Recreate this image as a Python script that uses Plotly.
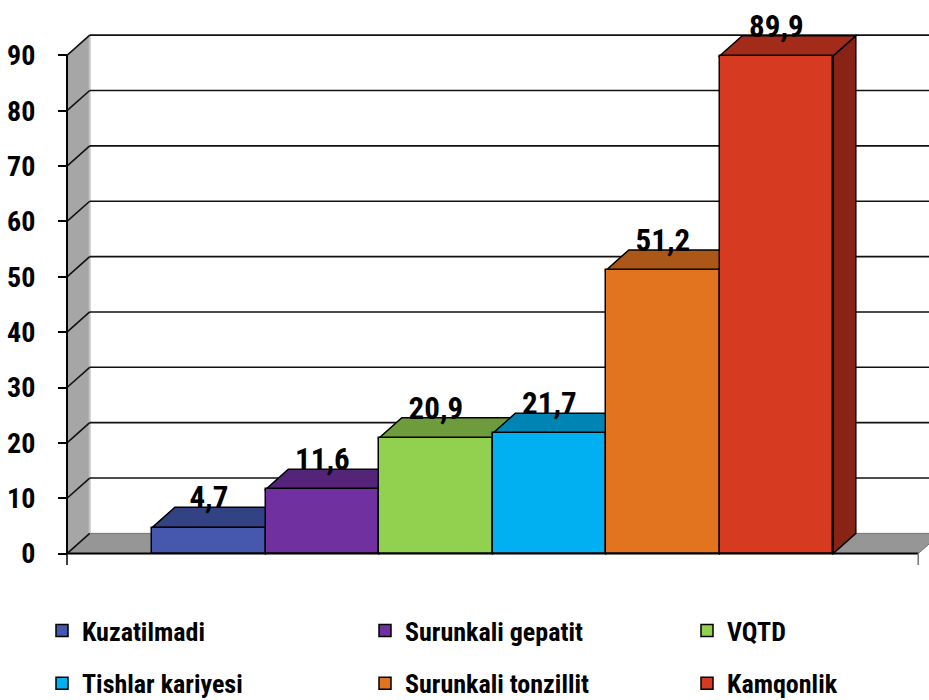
import plotly.graph_objects as go

# ---- data ----
categories = ["Kuzatilmadi", "Surunkali gepatit", "VQTD",
              "Tishlar kariyesi", "Surunkali tonzillit", "Kamqonlik"]
values = [4.7, 11.6, 20.9, 21.7, 51.2, 89.9]
value_labels = ["4,7", "11,6", "20,9", "21,7", "51,2", "89,9"]
tick_values = [0, 10, 20, 30, 40, 50, 60, 70, 80, 90]
tick_labels = ["0", "10", "20", "30", "40", "50", "60", "70", "80", "90"]

# ---- style ----
front_colors = ["#4558AE", "#7030A0", "#92D050", "#00B0F0", "#E2731F", "#D63A21"]
top_colors = ["#334283", "#542478", "#6E9C3C", "#0084B4", "#AA5718", "#A22C19"]
side_colors = ["#2B376D", "#461E64", "#5B8232", "#006E96", "#8E4914", "#882316"]
FONT = "Roboto Condensed, Liberation Sans Narrow, Arial Narrow, sans-serif"

DX, DY = 0.2, 3.65          # depth offset in axis units
X0, X1 = -1.25, 6.25        # front plane limits
XR = [-1.488, 6.345]
YR = [-2.06, 100]

fig = go.Figure()

shapes = []
def poly(pts, fill, lw=0, lc="black", layer="below"):
    p = "M " + " L ".join(f"{x},{y}" for x, y in pts) + " Z"
    shapes.append(dict(type="path", path=p, xref="x", yref="y", fillcolor=fill,
                       line=dict(width=lw, color=lc), layer=layer))
def line(x0, y0, x1, y1, color="#111", w=1.6, layer="below"):
    shapes.append(dict(type="line", x0=x0, y0=y0, x1=x1, y1=y1, xref="x", yref="y",
                       line=dict(color=color, width=w), layer=layer))

top = tick_values[-1]
# left wall and floor
poly([(X0, 0), (X0 + DX, DY), (X0 + DX, top + DY), (X0, top)], "#A6A6A6")
poly([(X0, 0), (X1, 0), (X1 + DX, DY), (X0 + DX, DY)], "#969696", lw=1, lc="#707070")
line(X0 + DX, DY, X0 + DX, top + DY, color="#C4C4C4", w=2)
# gridlines
for v in tick_values:
    if v > 0:
        line(X0 + DX, v + DY, XR[1] + 1, v + DY)
    line(X0, v, X0 + DX, v + DY)

# bar side & top faces
for i, v in enumerate(values):
    poly([(i + 0.5, 0), (i + 0.5 + DX, DY), (i + 0.5 + DX, v + DY), (i + 0.5, v)],
         side_colors[i], lw=1.5)
    poly([(i - 0.5, v), (i + 0.5, v), (i + 0.5 + DX, v + DY), (i - 0.5 + DX, v + DY)],
         top_colors[i], lw=1.5)

# axes lines
line(X0, 0, X1, 0, color="black", w=2, layer="above")
line(X0, 0, X0, top, color="black", w=2, layer="above")
line(X0, 0, X0, YR[0], color="black", w=1.5, layer="above")
line(X1, 0, X1, YR[0], color="#777", w=1.5, layer="above")

legend_names = ["legend", "legend2", "legend3"]
for i, (c, v) in enumerate(zip(categories, values)):
    fig.add_trace(go.Bar(
        x=[i], y=[v], width=[1], name=c,
        marker=dict(color=front_colors[i], line=dict(color="black", width=1.5)),
        legend=legend_names[i % 3], legendgroup=f"g{i}",
        hoverinfo="skip"))

fig.add_trace(go.Scatter(
    x=list(range(len(values))), y=[v + DY + 1.2 for v in values],
    mode="text", text=value_labels, cliponaxis=False, showlegend=False,
    textfont=dict(family=FONT, size=31, color="black", weight="bold"),
    hoverinfo="skip"))

legend_common = dict(
    orientation="v", xref="container", yref="container",
    xanchor="left", yanchor="middle", y=1 - 657 / 700,
    tracegroupgap=16,
    font=dict(family=FONT, size=26, color="black", weight="bold"),
    bgcolor="rgba(0,0,0,0)", traceorder="grouped")

fig.update_layout(
    width=929, height=700,
    margin=dict(l=40, r=0, t=0, b=135, autoexpand=False),
    paper_bgcolor="white", plot_bgcolor="white",
    barmode="overlay", bargap=0,
    shapes=shapes,
    xaxis=dict(range=XR, visible=False, fixedrange=True),
    yaxis=dict(range=YR, anchor="free", position=27 / 889,
               tickvals=tick_values, ticktext=tick_labels,
               ticks="outside", ticklen=9, tickwidth=1.5, tickcolor="black",
               showgrid=False, zeroline=False, showline=False,
               ticklabelstandoff=17,
               tickfont=dict(family=FONT, size=28, color="black", weight="bold"),
               fixedrange=True),
    legend=dict(x=42 / 929, **legend_common),
    legend2=dict(x=365 / 929, **legend_common),
    legend3=dict(x=687 / 929, **legend_common),
    showlegend=True,
)

fig.write_html("out.html")
